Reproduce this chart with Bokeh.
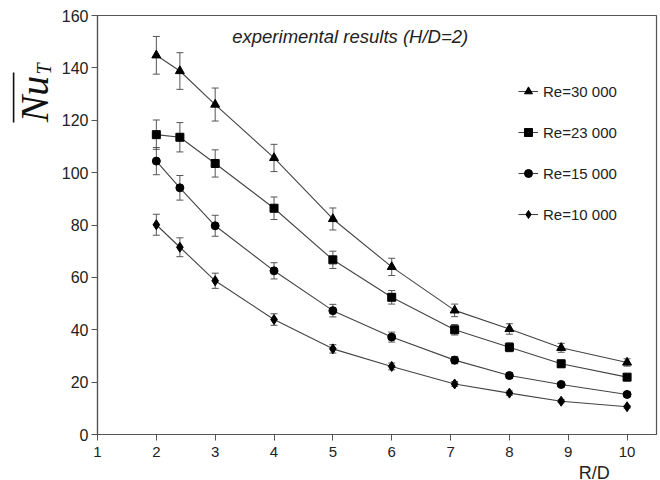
import numpy as np
from bokeh.plotting import figure
from bokeh.layouts import row, column
from bokeh.models import (ColumnDataSource, Whisker, Legend, LegendItem, Label,
                          BoxAnnotation, Range1d, FixedTicker, TeeHead)
from bokeh.embed import file_html
from bokeh.resources import INLINE

# ---- data ----
rd = [2, 2.4, 3, 4, 5, 6, 7.07, 8, 8.88, 10]
re30 = [144.8, 138.8, 126.0, 105.6, 82.3, 64.0, 47.4, 40.3, 33.1, 27.5]
re30_err = [7.2, 7.0, 6.3, 5.2, 4.2, 3.3, 2.4, 2.0, 1.7, 1.4]
re23 = [114.5, 113.5, 103.5, 86.4, 66.7, 52.4, 40.0, 33.3, 27.0, 21.9]
re23_err = [5.6, 5.6, 5.2, 4.3, 3.3, 2.6, 2.0, 1.7, 1.3, 1.1]
re15 = [104.4, 94.2, 79.7, 62.5, 47.3, 37.2, 28.4, 22.5, 19.1, 15.3]
re15_err = [5.2, 4.7, 4.0, 3.1, 2.4, 1.9, 1.4, 1.1, 0.9, 0.8]
re10 = [80.1, 71.5, 58.7, 43.9, 32.7, 26.0, 19.3, 15.8, 12.7, 10.6]
re10_err = [4.0, 3.6, 2.9, 2.2, 1.6, 1.3, 0.9, 0.8, 0.6, 0.5]

series_labels = ["Re=30 000", "Re=23 000", "Re=15 000", "Re=10 000"]
series_values = [re30, re23, re15, re10]
series_errors = [re30_err, re23_err, re15_err, re10_err]
series_markers = ["triangle", "square", "circle", "diamond"]
marker_sizes = [9, 8, 8, 10]

x_ticks = [1, 2, 3, 4, 5, 6, 7, 8, 9, 10]
y_ticks = [0, 20, 40, 60, 80, 100, 120, 140, 160]

title_text = "experimental results (H/D=2)"
x_label = "R/D"
y_label_main = "Nu"
y_label_sub = "T"

FONT = "Liberation Sans"
SERIF = "Liberation Serif"
LEFT_W = 57
STRIP_H = 18

# ---------------- main chart ----------------
p = figure(width=660 - LEFT_W, height=480 - STRIP_H, output_backend="svg",
           toolbar_location=None,
           x_range=Range1d(1, 10.5), y_range=Range1d(0, 160),
           min_border_left=97 - LEFT_W, min_border_right=4, min_border_top=15,
           min_border_bottom=46 - STRIP_H)
p.background_fill_color = "white"
p.border_fill_color = "white"
p.outline_line_color = "#555555"
p.outline_line_width = 1.2
p.xgrid.visible = False
p.ygrid.visible = False

for ax in (p.xaxis[0], p.yaxis[0]):
    ax.axis_line_color = "#555555"
    ax.axis_line_width = 1.2
    ax.major_tick_line_color = "#555555"
    ax.major_tick_out = 6
    ax.major_tick_in = 0
    ax.minor_tick_line_color = None
    ax.major_label_text_font = FONT
    ax.major_label_text_color = "#222222"
p.xaxis.major_label_text_font_size = "15px"
p.yaxis.major_label_text_font_size = "16px"
p.xaxis.ticker = FixedTicker(ticks=x_ticks)
p.yaxis.ticker = FixedTicker(ticks=y_ticks)
p.xaxis.major_label_standoff = 6
p.yaxis.major_label_standoff = 3

items = []
for lab, vals, errs, mk, ms in zip(series_labels, series_values, series_errors,
                                   series_markers, marker_sizes):
    src = ColumnDataSource(dict(
        x=rd, y=vals,
        lo=[v - e for v, e in zip(vals, errs)],
        hi=[v + e for v, e in zip(vals, errs)]))
    w = Whisker(source=src, base="x", upper="hi", lower="lo",
                line_color="#555555", line_width=1,
                upper_head=TeeHead(size=7, line_color="#555555", line_width=1),
                lower_head=TeeHead(size=7, line_color="#555555", line_width=1))
    p.add_layout(w)
    ln = p.line("x", "y", source=src, line_color="#444444", line_width=1.1)
    sc = p.scatter("x", "y", source=src, marker=mk, size=ms,
                   fill_color="black", line_color="black")
    items.append(LegendItem(label=lab, renderers=[ln, sc]))

legend = Legend(items=items, location=(421, 210), padding=0, margin=0,
                label_height=20, glyph_height=20, glyph_width=20,
                spacing=21, label_standoff=5,
                label_text_font=FONT, label_text_font_size="15px",
                label_text_color="#222222",
                border_line_alpha=0, background_fill_alpha=0)
p.add_layout(legend)

p.add_layout(Label(x=3.29, y=152, text=title_text, text_font=FONT,
                   text_font_style="italic", text_font_size="18.5px",
                   text_color="#222222", text_baseline="middle"))

# ---------------- strip below for the x-axis title ----------------
strip = figure(width=660 - LEFT_W, height=STRIP_H, output_backend="svg",
               toolbar_location=None, x_range=p.x_range,
               y_range=Range1d(0, STRIP_H), x_axis_type=None, y_axis_type=None,
               min_border_left=97 - LEFT_W, min_border_right=4,
               min_border_top=0, min_border_bottom=0)
strip.outline_line_color = None
strip.xgrid.visible = False
strip.ygrid.visible = False
strip.add_layout(Label(x=9.44, y=8, text=x_label, text_font=FONT,
                       text_font_size="18px", text_color="#222222",
                       text_align="center", text_baseline="middle"))

# ---------------- left strip for the y-axis title ----------------
lf = figure(width=LEFT_W, height=480, output_backend="svg",
            toolbar_location=None, x_range=Range1d(0, LEFT_W),
            y_range=Range1d(0, 480), x_axis_type=None, y_axis_type=None,
            min_border_left=0, min_border_right=0, min_border_top=0,
            min_border_bottom=0)
lf.outline_line_color = None
lf.xgrid.visible = False
lf.ygrid.visible = False
lf.add_layout(Label(x=34, y=480 - 98.5, text=y_label_main, angle=np.pi / 2,
                    text_font=SERIF, text_font_style="italic",
                    text_font_size="40px", text_color="#111111",
                    text_align="center", text_baseline="middle"))
lf.add_layout(Label(x=43.5, y=480 - 68.5, text=y_label_sub, angle=np.pi / 2,
                    text_font=SERIF, text_font_style="italic",
                    text_font_size="20px", text_color="#111111",
                    text_align="center", text_baseline="middle"))
lf.add_layout(BoxAnnotation(left=12.3, right=13.9, bottom=480 - 122,
                            top=480 - 72, fill_color="#111111", fill_alpha=1,
                            line_color=None))

layout = row(lf, column(p, strip, spacing=0), spacing=0)
open("out.html", "w").write(file_html(layout, INLINE))
